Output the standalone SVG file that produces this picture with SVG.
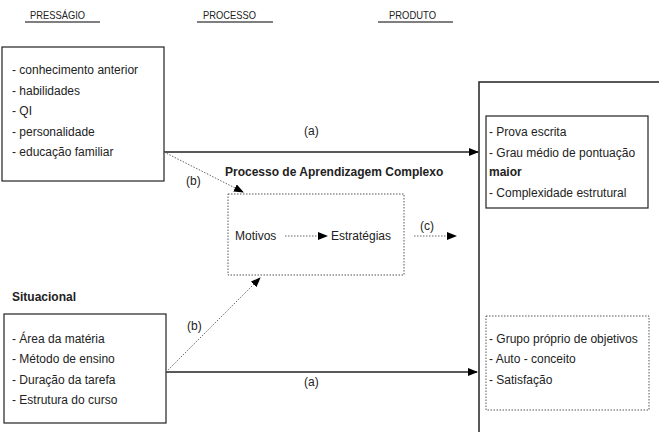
<svg xmlns="http://www.w3.org/2000/svg" width="659" height="432" viewBox="0 0 659 432">
<defs>
<marker id="ah" markerWidth="10" markerHeight="8" refX="9" refY="4" orient="auto" markerUnits="userSpaceOnUse"><path d="M0,0 L10,4 L0,8 Z" fill="#000"/></marker>
<style>
text{font-family:"Liberation Sans",Arial,sans-serif;font-size:12px;fill:#222}
.h{font-size:11px}
.b{font-weight:bold}
.box{fill:#fff;stroke:#222;stroke-width:1.2}
.dbox{fill:#fff;stroke:#555;stroke-width:1;stroke-dasharray:1.5 1.5}
.solid{stroke:#222;stroke-width:1.5;fill:none}
.dot{stroke:#666;stroke-width:1;stroke-dasharray:1.5 1.5;fill:none}
.ul{stroke:#555;stroke-width:1.5}
</style>
</defs>
<rect width="659" height="432" fill="#fff"/>
<g id="headers">
<text class="h" x="30" y="19" textLength="55" lengthAdjust="spacingAndGlyphs">PRESSÁGIO</text><line class="ul" x1="25" y1="22" x2="100" y2="22"/>
<text class="h" x="203" y="19" textLength="53" lengthAdjust="spacingAndGlyphs">PROCESSO</text><line class="ul" x1="197" y1="22" x2="273" y2="22"/>
<text class="h" x="389" y="19" textLength="47" lengthAdjust="spacingAndGlyphs">PRODUTO</text><line class="ul" x1="378" y1="22" x2="453" y2="22"/>
</g>
<g id="pressagio">
<rect class="box" x="2" y="47" width="162" height="134"/>
<text x="12" y="74">- conhecimento anterior</text>
<text x="12" y="95">- habilidades</text>
<text x="12" y="115">- QI</text>
<text x="12" y="136">- personalidade</text>
<text x="12" y="156">- educação familiar</text>
</g>
<g id="situacional">
<text class="b" x="12" y="301">Situacional</text>
<rect class="box" x="4" y="314" width="162" height="109"/>
<text x="12" y="343">- Área da matéria</text>
<text x="12" y="363">- Método de ensino</text>
<text x="12" y="384">- Duração da tarefa</text>
<text x="12" y="404">- Estrutura do curso</text>
</g>
<g id="processo">
<text class="b" x="225" y="176">Processo de Aprendizagem Complexo</text>
<rect class="dbox" x="228" y="194" width="176" height="81"/>
<text x="235" y="240">Motivos</text>
<text x="331" y="240">Estratégias</text>
</g>
<g id="produto">
<path class="solid" d="M659,82 H479 V432"/>
<rect class="box" x="486" y="116" width="162" height="92"/>
<text x="489" y="136">- Prova escrita</text>
<text x="489" y="157">- Grau médio de pontuação</text>
<text class="b" x="489" y="176">maior</text>
<text x="489" y="197">- Complexidade estrutural</text>
<rect class="dbox" x="486" y="316" width="163" height="94"/>
<text x="489" y="343">- Grupo próprio de objetivos</text>
<text x="489" y="363">- Auto - conceito</text>
<text x="489" y="384">- Satisfação</text>
</g>
<g id="connectors">
<line class="solid" x1="164" y1="152" x2="478" y2="152" marker-end="url(#ah)"/>
<text x="304" y="135">(a)</text>
<line class="dot" x1="164" y1="152" x2="243" y2="192" marker-end="url(#ah)"/>
<text x="186" y="185">(b)</text>
<line class="dot" x1="285" y1="236" x2="327" y2="236" marker-end="url(#ah)"/>
<line class="dot" x1="414" y1="236" x2="456" y2="236" marker-end="url(#ah)"/>
<text x="420" y="230">(c)</text>
<line class="solid" x1="166" y1="372" x2="477" y2="372" marker-end="url(#ah)"/>
<text x="304" y="386">(a)</text>
<line class="dot" x1="166" y1="372" x2="260" y2="278" marker-end="url(#ah)"/>
<text x="187" y="330">(b)</text>
</g>
</svg>
